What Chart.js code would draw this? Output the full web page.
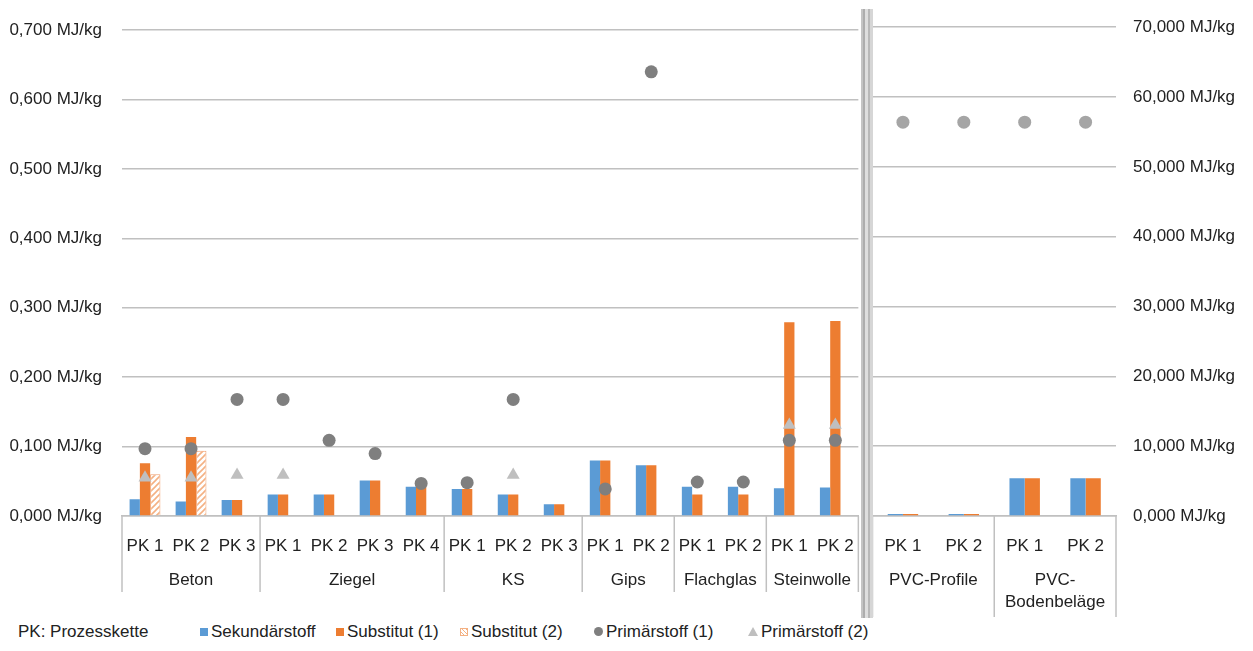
<!DOCTYPE html>
<html>
<head>
<meta charset="utf-8">
<script src="https://cdn.jsdelivr.net/npm/chart.js@4.4.1/dist/chart.umd.min.js"></script>
<style>
  body { margin: 0; background: #fff; width: 1253px; height: 651px; overflow: hidden; position: relative;
         font-family: "Liberation Sans", Arial, sans-serif; color: #222; }
  #links { position: absolute; left: 0; top: 0; }
  #rechts { position: absolute; left: 866px; top: 0; }
  #trenner { position: absolute; left: 861px; top: 9px; width: 12px; height: 609px;
             background: linear-gradient(to right, #c4c4c4 0 2px, #adadad 2px 4px, #dedede 4px 7px, #b8b8b8 7px 9px, #d6d6d6 9px 12px); }
  .lg { position: absolute; top: 621px; height: 22px; line-height: 22px; font-size: 17px; white-space: nowrap; }
  .sym { display: inline-block; width: 8px; height: 8px; margin-right: 3px; vertical-align: 1px; }
</style>
</head>
<body>
<canvas id="links" width="866" height="620"></canvas>
<canvas id="rechts" width="387" height="620"></canvas>
<div id="trenner"></div>

<span class="lg" style="left:18px">PK: Prozesskette</span>
<span class="lg" style="left:200px"><i class="sym" style="background:#5B9BD5"></i>Sekundärstoff</span>
<span class="lg" style="left:336px"><i class="sym" style="background:#ED7D31"></i>Substitut (1)</span>
<span class="lg" style="left:460px"><i class="sym" style="background:repeating-linear-gradient(45deg,#f4b183 0 1px,#fff 1px 3px);outline:1px solid #f4b183;outline-offset:-1px"></i>Substitut (2)</span>
<span class="lg" style="left:594px"><i class="sym" style="background:#7F7F7F;border-radius:50%;width:9px;height:9px"></i>Primärstoff (1)</span>
<span class="lg" style="left:748px"><i class="sym" style="width:0;height:0;border-left:5px solid transparent;border-right:5px solid transparent;border-bottom:9px solid #BFBFBF"></i>Primärstoff (2)</span>

<script>
// linker Teil (Achse 0 - 0,7 MJ/kg)
const kategorien = ['PK 1', 'PK 2', 'PK 3', 'PK 1', 'PK 2', 'PK 3', 'PK 4', 'PK 1', 'PK 2', 'PK 3', 'PK 1', 'PK 2', 'PK 1', 'PK 2', 'PK 1', 'PK 2'];
const gruppen = [['Beton'], ['Ziegel'], ['KS'], ['Gips'], ['Flachglas'], ['Steinwolle']];
const gruppenGroesse = [3, 4, 3, 2, 2, 2];

const sekundaer   = [0.024, 0.021, 0.023, 0.031, 0.031, 0.051, 0.042, 0.039, 0.031, 0.017, 0.080, 0.073, 0.042, 0.042, 0.040, 0.041];
const substitut1  = [0.076, 0.114, 0.023, 0.031, 0.031, 0.051, 0.042, 0.039, 0.031, 0.017, 0.080, 0.073, 0.031, 0.031, 0.279, 0.281];
const substitut2  = [0.060, 0.094, null, null, null, null, null, null, null, null, null, null, null, null, null, null];
const primaer1    = [0.097, 0.097, 0.168, 0.168, 0.109, 0.090, 0.047, 0.048, 0.168, null, 0.039, 0.640, 0.049, 0.049, 0.109, 0.109];
const primaer2    = [0.055, 0.055, 0.059, 0.059, null, null, null, null, 0.059, null, null, null, null, null, 0.131, 0.131];

// rechter Teil (Achse 0 - 70 MJ/kg)
const kategorienPvc = ['PK 1', 'PK 2', 'PK 1', 'PK 2'];
const gruppenPvc = [['PVC-Profile'], ['PVC-', 'Bodenbeläge']];
const gruppenGroessePvc = [2, 2];

const sekundaerPvc  = [0.3, 0.3, 5.4, 5.4];
const substitut1Pvc = [0.3, 0.3, 5.4, 5.4];
const primaer1Pvc   = [56.4, 56.4, 56.4, 56.4];

const links_ticks  = [0, 0.1, 0.2, 0.3, 0.4, 0.5, 0.6, 0.7];
const rechts_ticks = [0, 10, 20, 30, 40, 50, 60, 70];

const FONT = '"Liberation Sans", Arial, sans-serif';
const TEXT = '#222';
const GRID = '#C0C0C0';

function mjkg(v) {
  return v.toFixed(3).replace('.', ',') + ' MJ/kg';
}

// Schraffur fuer Substitut (2)
function schraffur() {
  const c = document.createElement('canvas');
  c.width = 6; c.height = 6;
  const g = c.getContext('2d');
  g.fillStyle = '#fff';
  g.fillRect(0, 0, 6, 6);
  g.strokeStyle = '#F4B183';
  g.lineWidth = 1.6;
  g.beginPath();
  g.moveTo(0, 6); g.lineTo(6, 0);
  g.moveTo(-1, 1); g.lineTo(1, -1);
  g.moveTo(5, 7); g.lineTo(7, 5);
  g.stroke();
  return g.createPattern(c, 'repeat');
}

// Gruppenbeschriftung unter der Kategorienachse
const gruppenPlugin = {
  id: 'gruppen',
  afterDraw(chart, args, opts) {
    const { ctx, chartArea } = chart;
    const x = chart.scales.x;
    const w = (chartArea.right - chartArea.left) / x.ticks.length;
    ctx.save();
    ctx.strokeStyle = GRID;
    ctx.lineWidth = 1.5;
    ctx.fillStyle = TEXT;
    ctx.font = '17px ' + FONT;
    ctx.textAlign = 'center';
    ctx.textBaseline = 'middle';
    let start = 0;
    opts.namen.forEach((name, i) => {
      const n = opts.groesse[i];
      const l = x.getPixelForValue(start) - w / 2;
      const r = x.getPixelForValue(start + n - 1) + w / 2;
      ctx.beginPath();
      ctx.moveTo(l, chartArea.bottom);
      ctx.lineTo(l, opts.linienEnde);
      ctx.stroke();
      if (i === opts.namen.length - 1) {
        ctx.beginPath();
        ctx.moveTo(r, chartArea.bottom);
        ctx.lineTo(r, opts.linienEnde);
        ctx.stroke();
      }
      name.forEach((zeile, z) => ctx.fillText(zeile, (l + r) / 2, opts.textY + z * 22));
      start += n;
    });
    ctx.restore();
  }
};

const tickFont = { family: FONT, size: 17 };

new Chart(document.getElementById('links'), {
  type: 'bar',
  data: {
    labels: kategorien,
    datasets: [
      { label: 'Sekundärstoff', data: sekundaer, backgroundColor: '#5B9BD5', order: 2 },
      { label: 'Substitut (1)', data: substitut1, backgroundColor: '#ED7D31', order: 2 },
      { label: 'Substitut (2)', data: substitut2, backgroundColor: schraffur(), borderColor: '#F0A070', borderWidth: 1, order: 2 },
      { type: 'line', label: 'Primärstoff (1)', data: primaer1, showLine: false, pointStyle: 'circle',
        pointRadius: 6.5, pointBackgroundColor: '#7F7F7F', pointBorderWidth: 0, order: 1 },
      { type: 'line', label: 'Primärstoff (2)', data: primaer2, showLine: false, pointStyle: 'triangle',
        pointRadius: 7.5, pointBackgroundColor: '#BFBFBF', pointBorderWidth: 0, order: 0 }
    ]
  },
  options: {
    responsive: false,
    animation: false,
    layout: { padding: { top: 21, right: 0, left: 0, bottom: 0 } },
    datasets: { bar: { categoryPercentage: 0.67, barPercentage: 1 } },
    plugins: {
      legend: { display: false },
      tooltip: { enabled: false },
      gruppen: { namen: gruppen, groesse: gruppenGroesse, textY: 580, linienEnde: 592 }
    },
    scales: {
      x: {
        grid: { display: false },
        border: { color: GRID, width: 1.5 },
        ticks: { font: tickFont, color: TEXT, padding: 12, maxRotation: 0, autoSkip: false },
        afterFit(s) { s.height = 104; }
      },
      y: {
        min: 0, max: 0.7,
        afterBuildTicks(s) { s.ticks = links_ticks.map(v => ({ value: v })); },
        ticks: { font: tickFont, color: TEXT, padding: 20, callback: v => mjkg(v) },
        grid: { color: GRID, lineWidth: 1.5, drawTicks: false },
        border: { display: false },
        afterFit(s) { s.width = 122; }
      }
    }
  },
  plugins: [gruppenPlugin]
});

new Chart(document.getElementById('rechts'), {
  type: 'bar',
  data: {
    labels: kategorienPvc,
    datasets: [
      { label: 'Sekundärstoff', data: sekundaerPvc, backgroundColor: '#5B9BD5', order: 2 },
      { label: 'Substitut (1)', data: substitut1Pvc, backgroundColor: '#ED7D31', order: 2 },
      { type: 'line', label: 'Primärstoff (1)', data: primaer1Pvc, showLine: false, pointStyle: 'circle',
        pointRadius: 6.5, pointBackgroundColor: '#A5A5A5', pointBorderWidth: 0, order: 1 }
    ]
  },
  options: {
    responsive: false,
    animation: false,
    layout: { padding: { top: 25, right: 0, left: 6, bottom: 0 } },
    datasets: { bar: { categoryPercentage: 0.5, barPercentage: 1 } },
    plugins: {
      legend: { display: false },
      tooltip: { enabled: false },
      gruppen: { namen: gruppenPvc, groesse: gruppenGroessePvc, textY: 580, linienEnde: 617 }
    },
    scales: {
      x: {
        grid: { display: false },
        border: { color: GRID, width: 1.5 },
        ticks: { font: tickFont, color: TEXT, padding: 12, maxRotation: 0, autoSkip: false },
        afterFit(s) { s.height = 104; }
      },
      y: {
        position: 'right',
        min: 0, max: 70,
        afterBuildTicks(s) { s.ticks = rechts_ticks.map(v => ({ value: v })); },
        ticks: { font: tickFont, color: TEXT, padding: 17, callback: v => mjkg(v) },
        grid: { color: GRID, lineWidth: 1.5, drawTicks: false },
        border: { display: false },
        afterFit(s) { s.width = 137; }
      }
    }
  },
  plugins: [gruppenPlugin]
});
</script>
</body>
</html>
